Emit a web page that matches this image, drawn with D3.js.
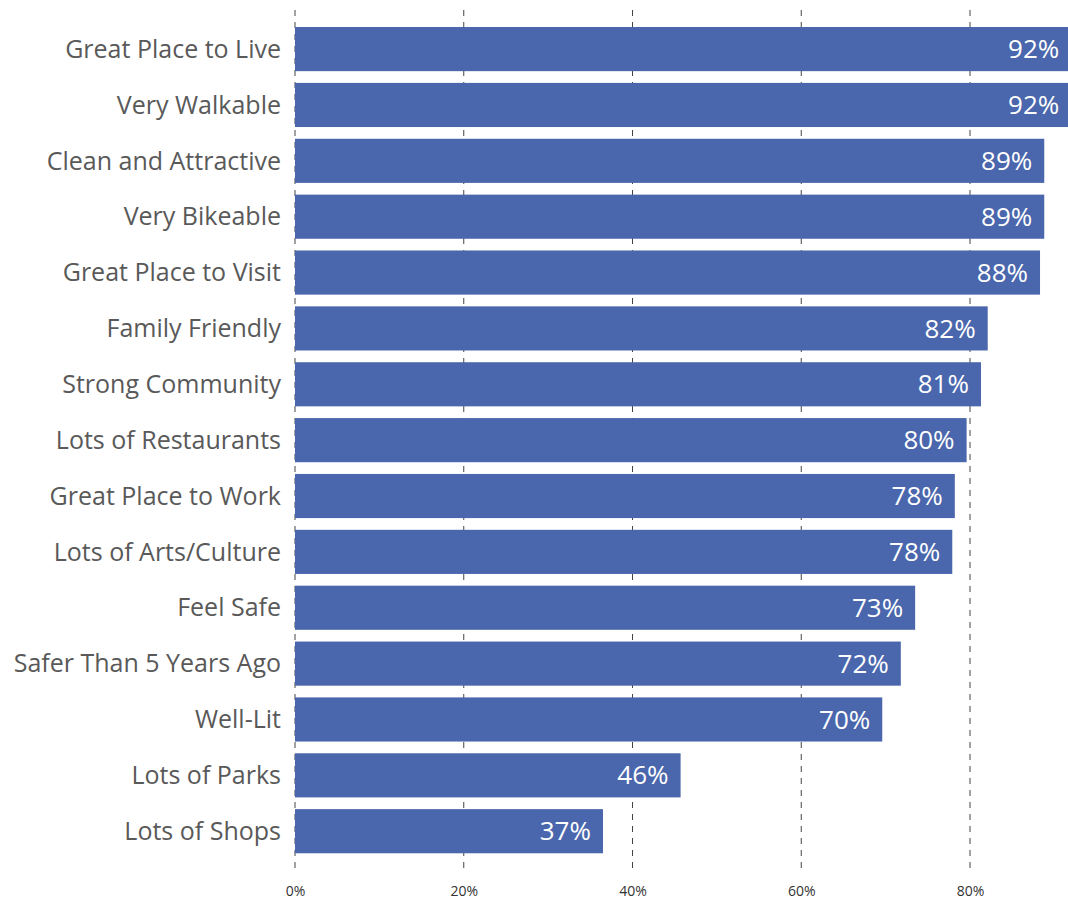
<!DOCTYPE html>
<html><head><meta charset="utf-8">
<script src="https://cdn.jsdelivr.net/npm/d3@7"></script>
<style>body{margin:0;background:#fff;}svg{display:block;}</style>
</head><body>
<svg id="c" width="1068" height="900"></svg>
<script>
const categories = ["Great Place to Live","Very Walkable","Clean and Attractive","Very Bikeable","Great Place to Visit","Family Friendly","Strong Community","Lots of Restaurants","Great Place to Work","Lots of Arts/Culture","Feel Safe","Safer Than 5 Years Ago","Well-Lit","Lots of Parks","Lots of Shops"];
const values = [0.92,0.92,0.888,0.888,0.883,0.821,0.813,0.796,0.782,0.779,0.735,0.718,0.696,0.457,0.365];
const valueLabels = ["92%","92%","89%","89%","88%","82%","81%","80%","78%","78%","73%","72%","70%","46%","37%"];
const tickValues = [0,0.2,0.4,0.6,0.8];

const svg = d3.select("#c");
const W = 1068;
const x = d3.scaleLinear().domain([0,1]).range([295,1138.75]);
const y = d3.scaleBand().domain(categories).range([15.3,865]).padding(0.21);
const font = "'Open Sans', 'Noto Sans', sans-serif";

svg.append("defs").append("clipPath").attr("id","clip").append("rect")
  .attr("x",0).attr("y",0).attr("width",W).attr("height",900);

// gridlines
svg.append("g").selectAll("line").data(tickValues).join("line")
  .attr("x1",d=>x(d)).attr("x2",d=>x(d)).attr("y1",10).attr("y2",872)
  .attr("stroke","#444").attr("stroke-width",1).attr("stroke-dasharray","6,6");

// axis labels
const ax = d3.axisBottom(x).tickValues(tickValues).tickFormat(d3.format(".0%")).tickSize(0).tickPadding(0);
const axG = svg.append("g").attr("transform","translate(0,886)").call(ax);
axG.select(".domain").remove();
axG.selectAll("text").attr("font-family",font).attr("font-size",14).attr("fill","#333");

// bars
svg.append("g").attr("clip-path","url(#clip)").selectAll("rect").data(categories).join("rect")
  .attr("x",x(0)).attr("y",d=>y(d)).attr("height",y.bandwidth())
  .attr("width",(d,i)=>x(values[i])-x(0)).attr("fill","#4a66ac");

// value labels
svg.append("g").selectAll("text").data(categories).join("text")
  .attr("x",(d,i)=>x(values[i])-12).attr("y",d=>y(d)+y.bandwidth()/2)
  .attr("dy","0.35em").attr("text-anchor","end")
  .attr("font-family",font).attr("font-size",26).attr("fill","#fff")
  .text((d,i)=>valueLabels[i]);

// category labels
svg.append("g").selectAll("text").data(categories).join("text")
  .attr("x",281).attr("y",d=>y(d)+y.bandwidth()/2)
  .attr("dy","0.35em").attr("text-anchor","end")
  .attr("font-family",font).attr("font-size",25).attr("fill","#595959")
  .text(d=>d);
</script>
</body></html>
